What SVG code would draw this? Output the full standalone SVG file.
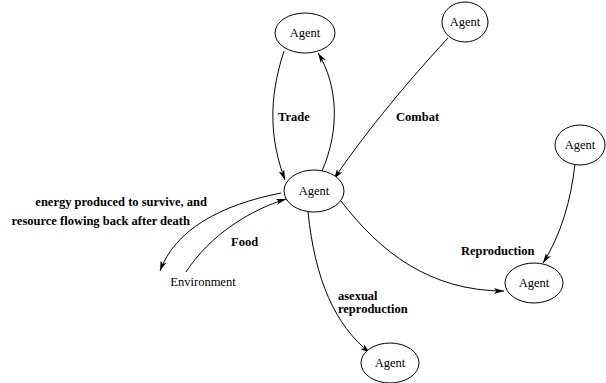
<svg xmlns="http://www.w3.org/2000/svg" width="606" height="383" viewBox="0 0 606 383">
  <style>
    .node ellipse { fill: #ffffff; stroke: #000000; stroke-width: 1; }
    .node text { font-family: "Liberation Serif", "Times New Roman", serif; font-size: 12.5px; fill: #000000; text-anchor: middle; }
    .edges path { fill: none; stroke: #000000; stroke-width: 1; marker-end: url(#arrow); }
    .lbl { font-family: "Liberation Serif", "Times New Roman", serif; font-size: 12.5px; font-weight: bold; fill: #000000; }
  </style>
  <defs>
    <marker id="arrow" viewBox="0 0 10 6" refX="10" refY="3" markerWidth="10" markerHeight="6" markerUnits="userSpaceOnUse" orient="auto">
      <path d="M0,0 L10,3 L0,6 L2.5,3 z" fill="#000000"/>
    </marker>
  </defs>
  <rect width="606" height="383" fill="#ffffff"/>

  <g class="edges">
    <path d="M284,51 C268,100 270,140 285,180"/>
    <path d="M322,171 C340,130 338,85 318,53"/>
    <path d="M448,38 C400,90 360,140 334,179"/>
    <path d="M575,164 C571,200 561,235 543,263"/>
    <path d="M341,201 C380,252 430,291 504,291"/>
    <path d="M308,212 C315,280 335,325 370,353"/>
    <path d="M281,193 C220,205 175,230 160,271"/>
    <path d="M186,272 C210,235 250,210 286,199"/>
  </g>

  <g id="agent-top" class="node">
    <ellipse cx="305" cy="33" rx="30" ry="20"/>
    <text x="305" y="37">Agent</text>
  </g>
  <g id="agent-topright" class="node">
    <ellipse cx="465" cy="22" rx="23" ry="20"/>
    <text x="465" y="26">Agent</text>
  </g>
  <g id="agent-center" class="node">
    <ellipse cx="314" cy="191" rx="30" ry="21"/>
    <text x="314" y="195">Agent</text>
  </g>
  <g id="agent-right" class="node">
    <ellipse cx="580" cy="145" rx="25" ry="20"/>
    <text x="580" y="149">Agent</text>
  </g>
  <g id="agent-repro" class="node">
    <ellipse cx="534" cy="283" rx="29" ry="20"/>
    <text x="534" y="287">Agent</text>
  </g>
  <g id="agent-bottom" class="node">
    <ellipse cx="390" cy="363" rx="29" ry="20"/>
    <text x="390" y="367">Agent</text>
  </g>
  <g id="environment" class="node">
    <text x="203" y="286">Environment</text>
  </g>

  <g id="labels">
    <text class="lbl" x="278" y="121">Trade</text>
    <text class="lbl" x="396" y="121">Combat</text>
    <text class="lbl" x="207" y="206" text-anchor="end">energy produced to survive, and</text>
    <text class="lbl" x="190" y="225" text-anchor="end">resource flowing back after death</text>
    <text class="lbl" x="231" y="246">Food</text>
    <text class="lbl" x="461" y="255">Reproduction</text>
    <text class="lbl" x="338" y="300">asexual</text>
    <text class="lbl" x="338" y="313">reproduction</text>
  </g>
</svg>
